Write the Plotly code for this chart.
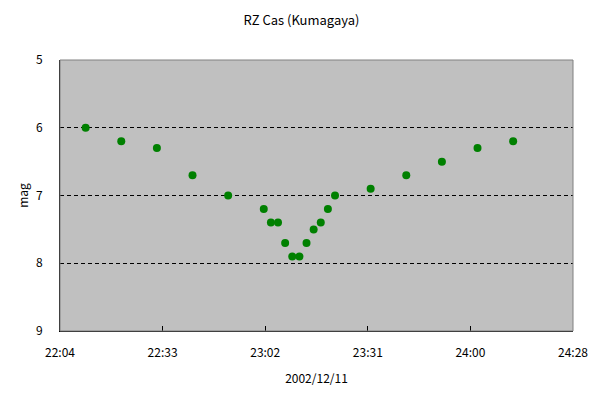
import plotly.graph_objects as go

times = ["22:12", "22:22", "22:32", "22:42", "22:52", "23:02", "23:04", "23:06",
         "23:08", "23:10", "23:12", "23:14", "23:16", "23:18", "23:20", "23:22",
         "23:32", "23:42", "23:52", "24:02", "24:12"]
mags = [6.0, 6.2, 6.3, 6.7, 7.0, 7.2, 7.4, 7.4, 7.7, 7.9, 7.9, 7.7, 7.5, 7.4,
        7.2, 7.0, 6.9, 6.7, 6.5, 6.3, 6.2]
x_tickvals = [0.92, 0.94, 0.96, 0.98, 1.00, 1.02]
x_ticktext = ["22:04", "22:33", "23:02", "23:31", "24:00", "24:28"]
y_tickvals = [5, 6, 7, 8, 9]


def to_day(t):
    h, m = t.split(":")
    return (int(h) * 60 + int(m)) / 1440.0


xs = [to_day(t) for t in times]

FONT = "Noto Sans CJK JP, DejaVu Sans, sans-serif"

fig = go.Figure()
fig.add_trace(go.Scatter(
    x=xs, y=mags, mode="markers",
    marker=dict(symbol="circle", size=8, color="#008000", line=dict(width=0)),
    showlegend=False,
))

fig.update_layout(
    width=603, height=395,
    margin=dict(l=60, r=30, t=60, b=64),
    paper_bgcolor="white",
    plot_bgcolor="#C0C0C0",
    font=dict(family=FONT, size=12, color="black"),
    title=dict(text="RZ Cas (Kumagaya)", x=0.5, xref="container", xanchor="center",
               y=1 - 20 / 395, yref="container", yanchor="middle",
               font=dict(size=13, family=FONT)),
    shapes=[dict(type="rect", xref="paper", yref="paper", x0=0, x1=1, y0=0, y1=1,
                 line=dict(color="#808080", width=1), layer="above")],
)

fig.update_xaxes(
    range=[0.92, 1.02], tickvals=x_tickvals, ticktext=x_ticktext,
    showgrid=False, zeroline=False,
    showline=True, linecolor="black", linewidth=1, mirror=False,
    ticks="inside", ticklen=5, tickcolor="black",
    ticklabelstandoff=11,
    title=dict(text="2002/12/11", standoff=15, font=dict(size=12)),
)
fig.update_yaxes(
    range=[9, 5], tickvals=y_tickvals,
    showgrid=True, gridcolor="black", griddash="4px,3px", gridwidth=1,
    zeroline=False,
    showline=True, linecolor="black", linewidth=1,
    ticks="", ticklabelstandoff=14,
    title=dict(text="mag", standoff=4, font=dict(size=12)),
)

fig.write_html("out.html")
